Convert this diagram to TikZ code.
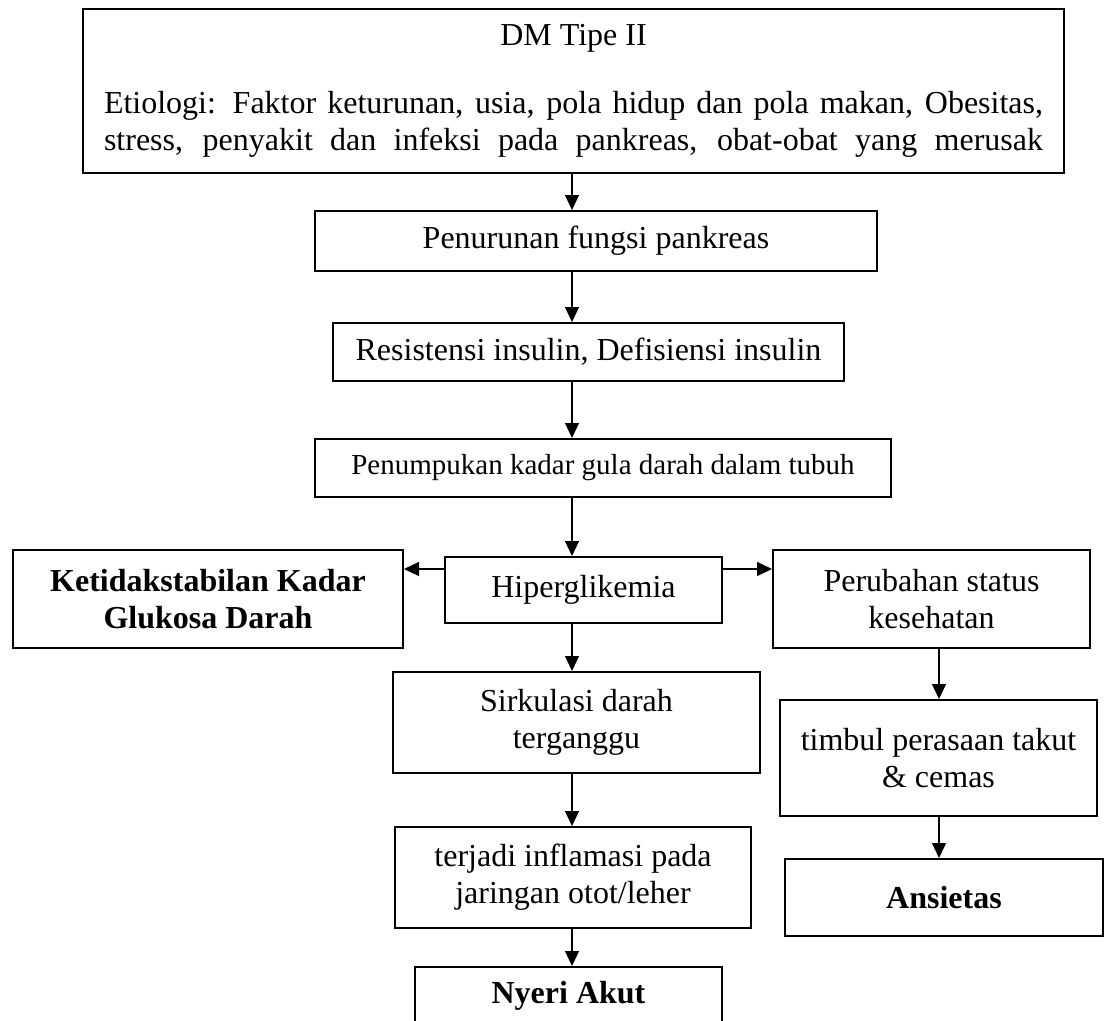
\documentclass[tikz,border=0pt]{standalone}
\usepackage{fontspec}
\setmainfont{Liberation Serif}
\usetikzlibrary{arrows.meta}
\begin{document}
\begin{tikzpicture}[x=1pt,y=-1pt,
  box/.style={draw, line width=2pt, inner sep=0pt, align=center, font=\fontsize{32}{37}\selectfont},
  boldbox/.style={box, font=\fontsize{32}{37}\selectfont\bfseries},
  arr/.style={-{Triangle[length=15pt,width=14pt]}, line width=1.2pt}]
\useasboundingbox (0,0) rectangle (1107,1020);
\clip (0,0) rectangle (1107,1020);
\fill[white] (0,0) rectangle (1107,1020);
\coordinate (cx) at (572,0);
\coordinate (hy) at (0,569);
\coordinate (rx) at (939,0);

\node[box, minimum width=981pt, minimum height=164pt] (top) at (573.5,91)
 {DM Tipe II\\[31pt]\makebox[939pt][s]{Etiologi: Faktor keturunan, usia, pola hidup dan pola makan, Obesitas,}\\\makebox[939pt][s]{stress, penyakit dan infeksi pada pankreas, obat-obat yang merusak}};
\node[box, minimum width=562pt, minimum height=60pt] (pen) at (596,241) {Penurunan fungsi pankreas};
\node[box, minimum width=511pt, minimum height=58pt] (res) at (588.5,352) {Resistensi insulin, Defisiensi insulin};
\node[box, minimum width=576pt, minimum height=58pt, font=\fontsize{29}{34}\selectfont] (pnm) at (603,468) {Penumpukan kadar gula darah dalam tubuh};
\node[box, minimum width=277pt, minimum height=66pt] (hyp) at (583.5,590) {Hiperglikemia};
\node[boldbox, minimum width=390pt, minimum height=98pt] (ket) at (208,599) {Ketidakstabilan Kadar\\Glukosa Darah};
\node[box, minimum width=317pt, minimum height=98pt] (per) at (931.5,599) {Perubahan status\\kesehatan};
\node[box, minimum width=367pt, minimum height=101pt] (sir) at (576.5,722.5) {Sirkulasi darah\\terganggu};
\node[box, minimum width=317pt, minimum height=116pt] (tim) at (938.5,758) {timbul perasaan takut\\\& cemas};
\node[box, minimum width=356pt, minimum height=101pt] (inf) at (573,877.5) {terjadi inflamasi pada\\jaringan otot/leher};
\node[boldbox, minimum width=318pt, minimum height=77pt] (ans) at (944,897.5) {Ansietas};
\node[boldbox, minimum width=307pt, minimum height=57pt] (nye) at (568.5,995.5) {Nyeri Akut};

\draw[arr] (top.south -| cx) -- (pen.north -| cx);
\draw[arr] (pen.south -| cx) -- (res.north -| cx);
\draw[arr] (res.south -| cx) -- (pnm.north -| cx);
\draw[arr] (pnm.south -| cx) -- (hyp.north -| cx);
\draw[arr] (hyp.west |- hy) -- (ket.east |- hy);
\draw[arr] (hyp.east |- hy) -- (per.west |- hy);
\draw[arr] (hyp.south -| cx) -- (sir.north -| cx);
\draw[arr] (sir.south -| cx) -- (inf.north -| cx);
\draw[arr] (inf.south -| cx) -- (nye.north -| cx);
\draw[arr] (per.south -| rx) -- (tim.north -| rx);
\draw[arr] (tim.south -| rx) -- (ans.north -| rx);
\end{tikzpicture}
\end{document}
